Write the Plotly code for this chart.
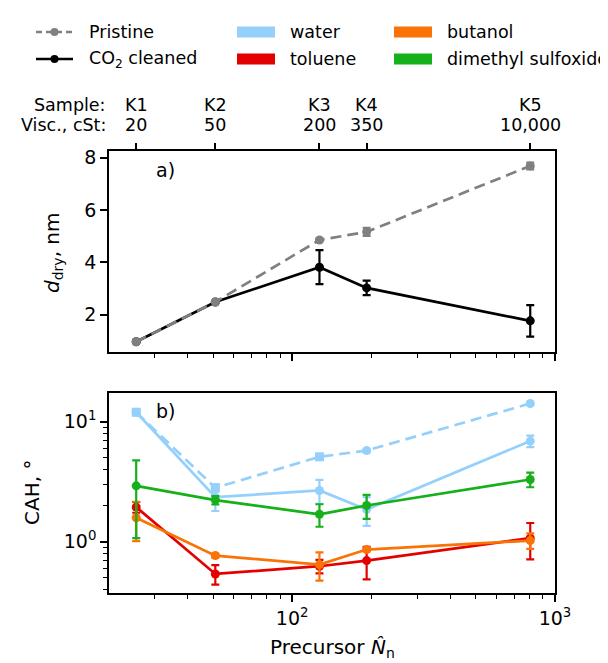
import math
import plotly.graph_objects as go

# ---------------- data ----------------
samples = ["K1", "K2", "K3", "K4", "K5"]
viscosity = ["20", "50", "200", "350", "10,000"]
N_n = [25.5, 51, 127, 192, 805]

ddry_pristine = [0.97, 2.49, 4.86, 5.17, 7.69]
ddry_pristine_err = [0.0, 0.0, 0.05, 0.15, 0.13]
ddry_cleaned = [0.97, 2.49, 3.82, 3.03, 1.77]
ddry_cleaned_err = [0.0, 0.0, 0.65, 0.28, 0.60]

water_pristine = [12.0, 2.81, 5.1, 5.75, 14.2]
water_pristine_err = [0.5, 0.2, 0.2, 0.2, 0.3]
water_cleaned = [12.0, 2.35, 2.67, 1.85, 6.9]
water_cleaned_err = [0.5, 0.55, 0.6, 0.5, 0.75]
toluene = [1.94, 0.537, 0.623, 0.694, 1.07]
toluene_err = [0.2, 0.1, 0.08, 0.21, 0.36]
butanol = [1.58, 0.764, 0.643, 0.858, 1.02]
butanol_err = [0.57, 0.03, 0.17, 0.03, 0.15]
dmso = [2.92, 2.22, 1.69, 2.0, 3.3]
dmso_err = [1.85, 0.18, 0.36, 0.45, 0.46]

# ---------------- style ----------------
W, H = 608, 663
ML, MR, MT, MB = 101, 61, 143, 78
PW, PH = W - ML - MR, H - MT - MB
FONT = "DejaVu Sans"
GRAY = "#808080"
BLUE = "#95d0fc"
RED = "#e50000"
ORANGE = "#f97306"
GREEN = "#15b01a"
LW = 2.7
MS = 9
DASH = "11px,6px"


def px(x, y):
    return (x - ML) / PW, (H - MB - y) / PH


top_bottom = px(0, 344)[1]
bot_top = px(0, 385)[1]

fig = go.Figure()


def err(arr, color, vis=True):
    return dict(type="data", array=arr, visible=vis, color=color,
                thickness=2.2, width=4)


# top panel
fig.add_trace(go.Scatter(x=N_n, y=ddry_cleaned, mode="lines+markers",
                         line=dict(color="black", width=LW),
                         marker=dict(color="black", size=MS),
                         error_y=err(ddry_cleaned_err, "black"),
                         xaxis="x", yaxis="y", showlegend=False))
fig.add_trace(go.Scatter(x=N_n, y=ddry_pristine, mode="lines+markers",
                         line=dict(color=GRAY, width=LW, dash=DASH),
                         marker=dict(color=GRAY, size=MS),
                         error_y=err(ddry_pristine_err, GRAY),
                         xaxis="x", yaxis="y", showlegend=False))
# invisible trace for the top sample axis
fig.add_trace(go.Scatter(x=N_n, y=ddry_pristine, mode="markers",
                         marker=dict(opacity=0), xaxis="x3", yaxis="y",
                         showlegend=False, hoverinfo="skip"))

# bottom panel
fig.add_trace(go.Scatter(x=N_n, y=water_pristine, mode="lines+markers",
                         line=dict(color=BLUE, width=LW, dash=DASH),
                         marker=dict(color=BLUE, size=MS,
                                     symbol=["square", "square", "square", "circle", "circle"]),
                         error_y=err(water_pristine_err, BLUE),
                         xaxis="x2", yaxis="y2", showlegend=False))
fig.add_trace(go.Scatter(x=N_n, y=water_cleaned, mode="lines+markers",
                         line=dict(color=BLUE, width=LW),
                         marker=dict(color=BLUE, size=MS),
                         error_y=err(water_cleaned_err, BLUE),
                         xaxis="x2", yaxis="y2", showlegend=False))
for vals, errs, col in [(toluene, toluene_err, RED),
                        (butanol, butanol_err, ORANGE),
                        (dmso, dmso_err, GREEN)]:
    fig.add_trace(go.Scatter(x=N_n, y=vals, mode="lines+markers",
                             line=dict(color=col, width=LW),
                             marker=dict(color=col, size=MS),
                             error_y=err(errs, col),
                             xaxis="x2", yaxis="y2", showlegend=False))

xrange = [1.303, 3.0]
minor_x = [30, 40, 50, 60, 70, 80, 90, 200, 300, 400, 500, 600, 700, 800, 900]
axis_common = dict(showline=True, linecolor="black", linewidth=1.5, mirror=True,
                   ticks="outside", ticklen=7, tickwidth=1.5, tickcolor="black",
                   showgrid=False, zeroline=False,
                   tickfont=dict(family=FONT, size=19, color="black"))
minor_style = dict(ticks="outside", ticklen=4, tickwidth=1.2, tickcolor="black",
                   showgrid=False)

fig.update_layout(
    width=W, height=H,
    margin=dict(l=ML, r=MR, t=MT, b=MB),
    paper_bgcolor="white", plot_bgcolor="white",
    font=dict(family=FONT, size=17, color="black"),
    xaxis=dict(axis_common, type="log", range=xrange, anchor="y",
               tickvals=[100, 1000], showticklabels=False,
               minor=dict(minor_style, tickvals=minor_x)),
    yaxis=dict(axis_common, range=[0.58, 8.26], anchor="x",
               domain=[top_bottom, 1], tickvals=[2, 4, 6, 8]),
    xaxis2=dict(axis_common, type="log", range=xrange, anchor="y2",
                tickvals=[100, 1000],
                ticktext=["10<sup>2</sup>", "10<sup>3</sup>"],
                minor=dict(minor_style, tickvals=minor_x)),
    yaxis2=dict(axis_common, type="log", range=[-0.429, 1.24], anchor="x2",
                domain=[0, bot_top], tickvals=[1, 10],
                ticktext=["10<sup>0</sup>", "10<sup>1</sup>"],
                minor=dict(minor_style,
                           tickvals=[0.4, 0.5, 0.6, 0.7, 0.8, 0.9,
                                     2, 3, 4, 5, 6, 7, 8, 9])),
    xaxis3=dict(type="log", range=xrange, overlaying="x", anchor="y",
                side="top", tickvals=N_n, showticklabels=False,
                ticks="outside", ticklen=7, tickwidth=1.5, tickcolor="black",
                showline=False, showgrid=False, zeroline=False),
)

ann = []
shapes = []
# sample / viscosity labels above top axis
for yy, label, row in [(97, "Sample:", samples), (117, "Visc., cSt:", viscosity)]:
    xp, yp = px(100, yy)
    ann.append(dict(x=xp, y=yp, xref="paper", yref="paper", text=label,
                    showarrow=False, xanchor="right", yanchor="middle",
                    font=dict(size=17.5)))
    for n, t in zip(N_n, row):
        ann.append(dict(x=math.log10(n), y=yp, xref="x", yref="paper", text=t,
                        showarrow=False, xanchor="center", yanchor="middle",
                        font=dict(size=17.5)))

# panel labels
for yy, t in [(162, "a)"), (403, "b)")]:
    xp, yp = px(146, yy)
    ann.append(dict(x=xp, y=yp, xref="paper", yref="paper", text=t,
                    showarrow=False, xanchor="left", yanchor="middle",
                    font=dict(size=19)))

# axis titles
xp, yp = px(45, 245)
ann.append(dict(x=xp, y=yp, xref="paper", yref="paper",
                text="<i>d</i><sub>dry</sub>, nm", textangle=-90,
                showarrow=False, xanchor="center", yanchor="middle",
                font=dict(size=20)))
xp, yp = px(24, 485)
ann.append(dict(x=xp, y=yp, xref="paper", yref="paper",
                text="CAH, °", textangle=-90,
                showarrow=False, xanchor="center", yanchor="middle",
                font=dict(size=20)))
xp, yp = px(324, 640)
ann.append(dict(x=xp, y=yp, xref="paper", yref="paper",
                text="Precursor <i>N̂</i><sub>n</sub>",
                showarrow=False, xanchor="center", yanchor="middle",
                font=dict(size=20)))

# legend
for yy, col, dash, lab in [(24, GRAY, "dash", "Pristine"),
                           (51, "black", "solid", "CO<sub>2</sub> cleaned")]:
    x0, yp = px(28, yy)
    x1, _ = px(65, yy)
    shapes.append(dict(type="line", xref="paper", yref="paper", x0=x0, x1=x1,
                       y0=yp, y1=yp, line=dict(color=col, width=LW,
                                               dash="6px,4px" if dash == "dash" else "solid")))
    cx0, cy0 = px(46.5 - 4, yy - 4)
    cx1, cy1 = px(46.5 + 4, yy + 4)
    shapes.append(dict(type="circle", xref="paper", yref="paper", x0=cx0, x1=cx1,
                       y0=cy1, y1=cy0, fillcolor=col, line=dict(width=0)))
    tx, ty = px(79, yy)
    ann.append(dict(x=tx, y=ty, xref="paper", yref="paper", text=lab,
                    showarrow=False, xanchor="left", yanchor="middle",
                    font=dict(size=17.5)))
# patch handles
for xl, yy, col, lab in [(229, 24, BLUE, "water"), (229, 51, RED, "toluene"),
                         (386, 24, ORANGE, "butanol"),
                         (386, 51, GREEN, "dimethyl sulfoxide")]:
    x0, y0 = px(xl, yy - 5.5)
    x1, y1 = px(xl + 38, yy + 5.5)
    shapes.append(dict(type="rect", xref="paper", yref="paper", x0=x0, x1=x1,
                       y0=y1, y1=y0, fillcolor=col, line=dict(width=0)))
    tx, ty = px(xl + 51, yy)
    ann.append(dict(x=tx, y=ty, xref="paper", yref="paper", text=lab,
                    showarrow=False, xanchor="left", yanchor="middle",
                    font=dict(size=17.5)))

fig.update_layout(annotations=ann, shapes=shapes)
fig.write_html("out.html")
